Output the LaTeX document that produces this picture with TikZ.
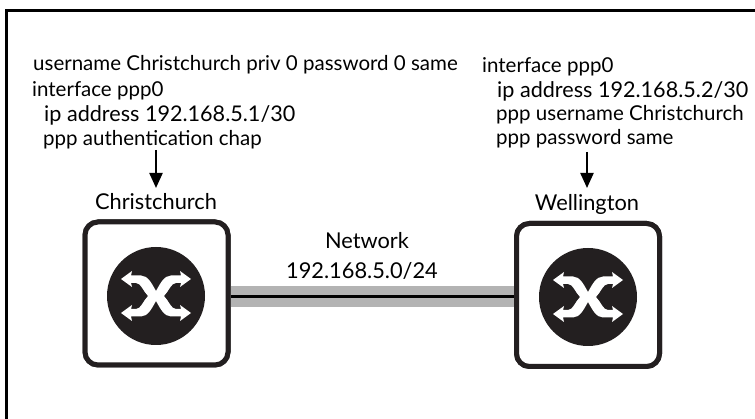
\documentclass[tikz,border=0pt]{standalone}
\usepackage{fontspec}
\setmainfont{Lato}
\usetikzlibrary{arrows.meta}
\definecolor{ink}{HTML}{231F20}
\definecolor{linkgray}{HTML}{B3B3B3}
\tikzset{
  x=1pt,y=-1pt,
  txt/.style={inner sep=0pt,anchor=base west,font=\fontsize{20.5}{22}\selectfont},
  addr/.style={txt,font=\fontsize{21.6}{23}\selectfont},
  ctr/.style={inner sep=0pt,anchor=base,font=\fontsize{21.8}{23}\selectfont},
  router/.style={draw=ink,line width=5pt,rounded corners=13pt,minimum width=143pt,minimum height=143pt,fill=white,inner sep=0pt},
  hub/.style={circle,fill=ink,minimum size=98pt,inner sep=0pt},
  pointer/.style={line width=2.2pt,-{Triangle[length=15pt,width=13pt]}},
  xglyph/.pic={
    \fill[white] (0,-5) .. controls (4,-12) and (8,-20.5) .. (15,-20.5) -- (25,-20.5) -- (24,-25) -- (35,-17) -- (24,-9) -- (25,-13) -- (20,-13)
      .. controls (15,-13) and (13,-5) .. (8,0) .. controls (13,5) and (15,13) .. (20,13) -- (25,13) -- (24,9) -- (35,17) -- (24,25) -- (25,20.5) -- (15,20.5)
      .. controls (8,20.5) and (4,12) .. (0,5) .. controls (-4,12) and (-8,20.5) .. (-15,20.5) -- (-25,20.5) -- (-24,25) -- (-35,17) -- (-24,9) -- (-25,13) -- (-20,13)
      .. controls (-15,13) and (-13,5) .. (-8,0) .. controls (-13,-5) and (-15,-13) .. (-20,-13) -- (-25,-13) -- (-24,-9) -- (-35,-17) -- (-24,-25) -- (-25,-20.5) -- (-15,-20.5)
      .. controls (-8,-20.5) and (-4,-12) .. (0,-5) -- cycle;
  }
}
\begin{document}
\begin{tikzpicture}
\useasboundingbox (0,0) rectangle (755,419);
\fill[white] (0,0) rectangle (755,419);
\draw[black,line width=3pt] (6.5,419) -- (6.5,10.5) -- (755,10.5);
\node[router] (r1) at (156.5,293.5) {};
\node[router] (r2) at (588,295) {};
\path (r1.east) ++(0,3) coordinate (a) (r2.west |- a) coordinate (b);
\draw[linkgray,line width=21pt] (a) -- (b);
\draw[black,line width=3pt] (a) -- (b);
\node[router] at (r1) {};
\node[router] at (r2) {};
\node[hub] (h1) at (156,296) {};
\node[hub] (h2) at (588,297) {};
\pic at (h1) {xglyph};
\pic at (h2) {xglyph};
\node[txt] (l1) at (33,71) {username Christchurch priv 0 password 0 same};
\node[txt] (l2) at (32,97) {interface ppp0};
\node[addr] (l3) at (44,122) {ip address 192.168.5.1/30};
\node[txt] (l4) at (43,146) {ppp authentication chap};
\node[txt] (m1) at (482,73) {interface ppp0};
\node[addr] (m2) at (497,98) {ip address 192.168.5.2/30};
\node[txt] (m3) at (496,121) {ppp username Christchurch};
\node[txt] (m4) at (496,145) {ppp password same};
\node[ctr] (c1) at (156,210) {Christchurch};
\node[ctr] (c2) at (587,211) {Wellington};
\node[ctr] (n1) at (367,249) {Network};
\node[ctr] (n2) at (362,279) {192.168.5.0/24};
\coordinate (p1) at (156,150);
\coordinate (q1) at (156,188);
\coordinate (p2) at (587,152);
\coordinate (q2) at (587,188);
\draw[pointer] (p1) -- (q1);
\draw[pointer] (p2) -- (q2);
\end{tikzpicture}
\end{document}
